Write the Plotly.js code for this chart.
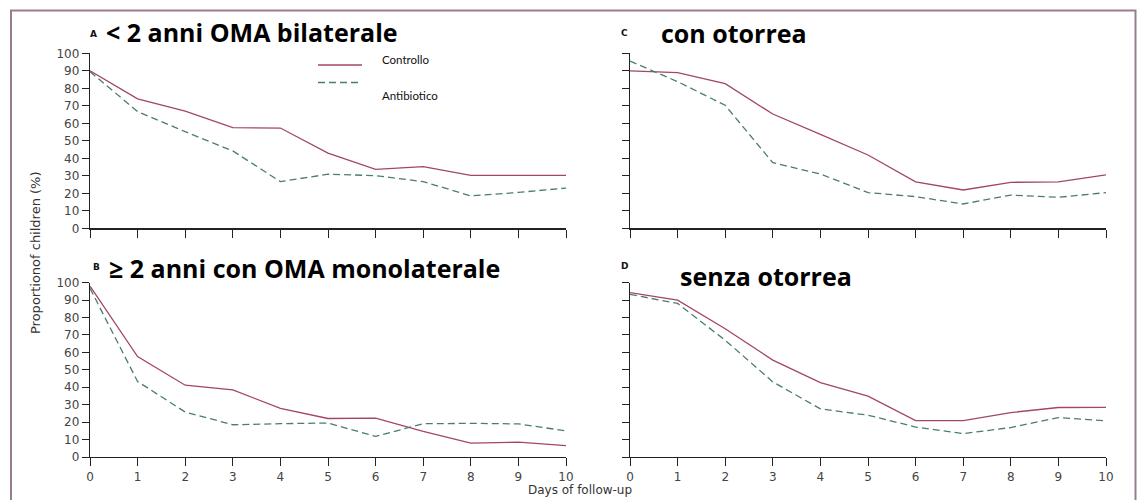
<!DOCTYPE html>
<html><head><meta charset="utf-8">
<script src="https://cdn.plot.ly/plotly-3.0.1.min.js"></script>
<style>html,body{margin:0;padding:0;background:#fff;}#chart{width:1137px;height:500px;}</style>
</head><body><div id="chart"></div>
<script>
// ---- data ----
const days = [0,1,2,3,4,5,6,7,8,9,10];
const seriesNames = ['Controllo','Antibiotico'];
const panelTitles = ['< 2 anni OMA bilaterale','con otorrea','\u2265 2 anni con OMA monolaterale','senza otorrea'];
const panelLetters = ['A','C','B','D'];
const yTickVals = [0,10,20,30,40,50,60,70,80,90,100];
const xTickVals = [0,1,2,3,4,5,6,7,8,9,10];
const aControllo   = [90,74,67,57.5,57.3,43,33.7,35.2,30.3,30.2,30.3];
const aAntibiotico = [89.5,66.7,55.2,44.2,26.7,30.9,30.1,26.7,18.5,20.5,23];
const cControllo   = [90,89,82.7,65.3,53.7,41.9,26.5,21.9,26.3,26.5,30.5];
const cAntibiotico = [95.6,83.8,70.3,37.5,31,20.4,18.1,13.9,19,17.7,20.4];
const bControllo   = [98,57.6,41.2,38.5,27.9,22.1,22.3,14.7,8,8.5,6.5];
const bAntibiotico = [96.8,43.3,25.8,18.5,19.1,19.5,11.8,19.1,19.3,19,15];
const dControllo   = [94.3,90,73.6,55.6,42.7,34.9,20.9,20.9,25.5,28.4,28.5];
const dAntibiotico = [93.3,88.1,67,43.1,27.6,24,17.2,13.4,16.9,22.6,20.7];

// ---- styling ----
const W = 1137, H = 500;
const px = x => x / W;
const py = y => 1 - y / H;
const ctrlColor = '#a3475f';
const antiColor = '#4a7d6c';
const axisColor = '#222222';
const tickFont = {family: 'DejaVu Sans', size: 12, color: '#444'};
const titleFont = {family: 'Open Sans', size: 25, color: '#000', weight: 'bold'};

const panels = [
  {ctrl: aControllo, anti: aAntibiotico, xa: 'x',  ya: 'y'},
  {ctrl: cControllo, anti: cAntibiotico, xa: 'x2', ya: 'y2'},
  {ctrl: bControllo, anti: bAntibiotico, xa: 'x3', ya: 'y3'},
  {ctrl: dControllo, anti: dAntibiotico, xa: 'x4', ya: 'y4'}
];
const traces = [];
panels.forEach(p => {
  traces.push({x: days, y: p.ctrl, xaxis: p.xa, yaxis: p.ya, type: 'scatter', mode: 'lines',
    name: seriesNames[0], line: {color: ctrlColor, width: 1.3}, showlegend: false});
  traces.push({x: days, y: p.anti, xaxis: p.xa, yaxis: p.ya, type: 'scatter', mode: 'lines',
    name: seriesNames[1], line: {color: antiColor, width: 1.3, dash: '7px,4px'}, showlegend: false});
});

const leftDom = [px(90), px(566)];
const rightDom = [px(630), px(1106)];
const topDom = [py(228.3), py(53.3)];
const botDom = [py(457), py(282.7)];

function xa(dom, anchor, labels) {
  return {domain: dom, anchor: anchor, range: [0, 10], tickvals: xTickVals, ticks: 'outside', ticklen: 8,
    tickcolor: axisColor, showline: true, linecolor: axisColor, linewidth: 1.2, showgrid: false, zeroline: false,
    showticklabels: labels, tickfont: tickFont, fixedrange: true};
}
function ya(dom, anchor, labels) {
  return {domain: dom, anchor: anchor, range: [0, 100], tickvals: yTickVals, ticks: 'outside', ticklen: 7,
    tickcolor: axisColor, showline: true, linecolor: axisColor, linewidth: 1.2, showgrid: false, zeroline: false,
    showticklabels: labels, tickfont: tickFont, fixedrange: true};
}

const annotations = [];
const ann = (text, x, y, font, extra) => annotations.push(Object.assign({text: text, x: px(x), y: py(y), xref: 'paper', yref: 'paper',
  xanchor: 'left', yanchor: 'middle', showarrow: false, font: font}, extra || {}));
const letterFont = {family: 'DejaVu Sans', size: 9, color: '#111', weight: 'bold'};
ann(panelLetters[0], 88, 34, letterFont);
ann(panelTitles[0], 104, 32, titleFont);
ann(panelLetters[1], 619, 33, letterFont);
ann(panelTitles[1], 659, 33, titleFont);
ann(panelLetters[2], 91, 267, letterFont);
ann(panelTitles[2], 107, 268, titleFont);
ann(panelLetters[3], 619, 266, letterFont);
ann(panelTitles[3], 678, 276, titleFont);
const legFont = {family: 'Lato', size: 11.5, color: '#111'};
ann(seriesNames[0], 380, 59, legFont);
ann(seriesNames[1], 380, 96, legFont);
ann('Proportionof children (%)', 35, 253, {family: 'DejaVu Sans', size: 13, color: '#333'}, {xanchor: 'center', textangle: -90});
ann('Days of follow-up', 580, 490, {family: 'DejaVu Sans', size: 12, color: '#333'}, {xanchor: 'center'});

const shapes = [
  {type: 'rect', xref: 'paper', yref: 'paper', x0: px(11), x1: px(1135.5), y0: py(506), y1: py(10.5),
    line: {color: '#9a7c90', width: 2}, fillcolor: 'rgba(0,0,0,0)'},
  {type: 'line', xref: 'paper', yref: 'paper', x0: px(318), x1: px(362), y0: py(65), y1: py(65),
    line: {color: ctrlColor, width: 1.3}},
  {type: 'line', xref: 'paper', yref: 'paper', x0: px(318), x1: px(362), y0: py(82.5), y1: py(82.5),
    line: {color: antiColor, width: 1.3, dash: '7px,4px'}}
];

const layout = {
  width: W, height: H, margin: {l: 0, r: 0, t: 0, b: 0}, paper_bgcolor: '#fff', plot_bgcolor: '#fff',
  showlegend: false,
  xaxis: xa(leftDom, 'y', false), yaxis: ya(topDom, 'x', true),
  xaxis2: xa(rightDom, 'y2', false), yaxis2: ya(topDom, 'x2', false),
  xaxis3: xa(leftDom, 'y3', true), yaxis3: ya(botDom, 'x3', true),
  xaxis4: xa(rightDom, 'y4', true), yaxis4: ya(botDom, 'x4', false),
  annotations: annotations, shapes: shapes
};
Plotly.newPlot('chart', traces, layout, {displayModeBar: false, staticPlot: true});
</script></body></html>
